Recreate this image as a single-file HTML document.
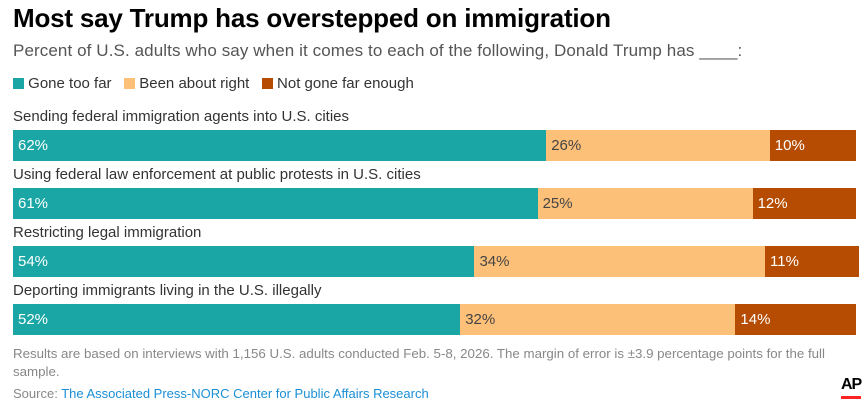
<!DOCTYPE html>
<html><head><meta charset="utf-8"><style>
body{margin:0;background:#fff;font-family:"Liberation Sans",Arial,sans-serif;}
#wrap{position:relative;width:867px;height:413px;overflow:hidden;}
.t{position:absolute;white-space:nowrap;}
</style></head><body>
<div id="wrap">
<div class="t" style="left:13px;top:3px;font-size:26px;font-weight:bold;color:#000;letter-spacing:-0.2px">Most say Trump has overstepped on immigration</div>
<div class="t" style="left:13px;top:41px;font-size:17px;color:#555;letter-spacing:0.1px">Percent of U.S. adults who say when it comes to each of the following, Donald Trump has ____:</div>
<div class="t" style="left:13px;top:75px;font-size:15px;color:#333">
<span><span style="display:inline-block;width:11px;height:11px;background:#1aa6a5;vertical-align:-1px"></span> Gone too far</span>&nbsp;&nbsp;
<span><span style="display:inline-block;width:11px;height:11px;background:#fdc078;vertical-align:-1px"></span> Been about right</span>&nbsp;&nbsp;
<span><span style="display:inline-block;width:11px;height:11px;background:#b54c01;vertical-align:-1px"></span> Not gone far enough</span>
</div>
<div class="t" style="left:13px;top:345px;font-size:13.3px;color:#888;line-height:18px;white-space:normal;width:820px">Results are based on interviews with 1,156 U.S. adults conducted Feb. 5-8, 2026. The margin of error is ±3.9 percentage points for the full sample.</div>
<div class="t" style="left:13px;top:386px;font-size:13px;color:#888">Source: <span style="color:#1a8fd6">The Associated Press-NORC Center for Public Affairs Research</span></div>
<div class="t" style="left:841px;top:376px;font-size:16px;font-weight:bold;color:#000;letter-spacing:-1px">AP</div>
<div class="t" style="left:841px;top:396px;width:20px;height:3px;background:#f22"></div>
</div>
<script>
const categories=["Sending federal immigration agents into U.S. cities","Using federal law enforcement at public protests in U.S. cities","Restricting legal immigration","Deporting immigrants living in the U.S. illegally"];
const goneTooFar=[62,61,54,52];
const aboutRight=[26,25,34,32];
const notFarEnough=[10,12,11,14];
const seriesColors=["#1aa6a5","#fdc078","#b54c01"];
const textColors=["#fff","#444","#fff"];
const x0=13,pxPer=8.6,rowTop=106,rowStep=58;
function xs(v){return v*pxPer;}
const wrap=document.getElementById('wrap');
categories.forEach((c,i)=>{
  const y=rowTop+i*rowStep;
  const lab=document.createElement('div');
  lab.className='t';
  
  
  lab.style.cssText=`left:13px;top:${y+2}px;font-size:15px;color:#333`;
  lab.textContent=c;wrap.appendChild(lab);
  const vals=[goneTooFar[i],aboutRight[i],notFarEnough[i]];
  const sum=vals.reduce((a,b)=>a+b,0);
  const sc=Math.min(pxPer,846/sum);
  let x=x0;
  vals.forEach((v,k)=>{
    const b=document.createElement('div');
    b.className='t';
    
    
    const w=v*sc;
    b.style.cssText=`left:${x}px;top:${y+24}px;width:${w}px;height:31px;background:${seriesColors[k]};color:${textColors[k]};font-size:15px;line-height:31px;box-sizing:border-box;padding-left:5px`;
    b.textContent=v+'%';
    wrap.appendChild(b);
    x+=w;
  });
});
</script>
</body></html>
